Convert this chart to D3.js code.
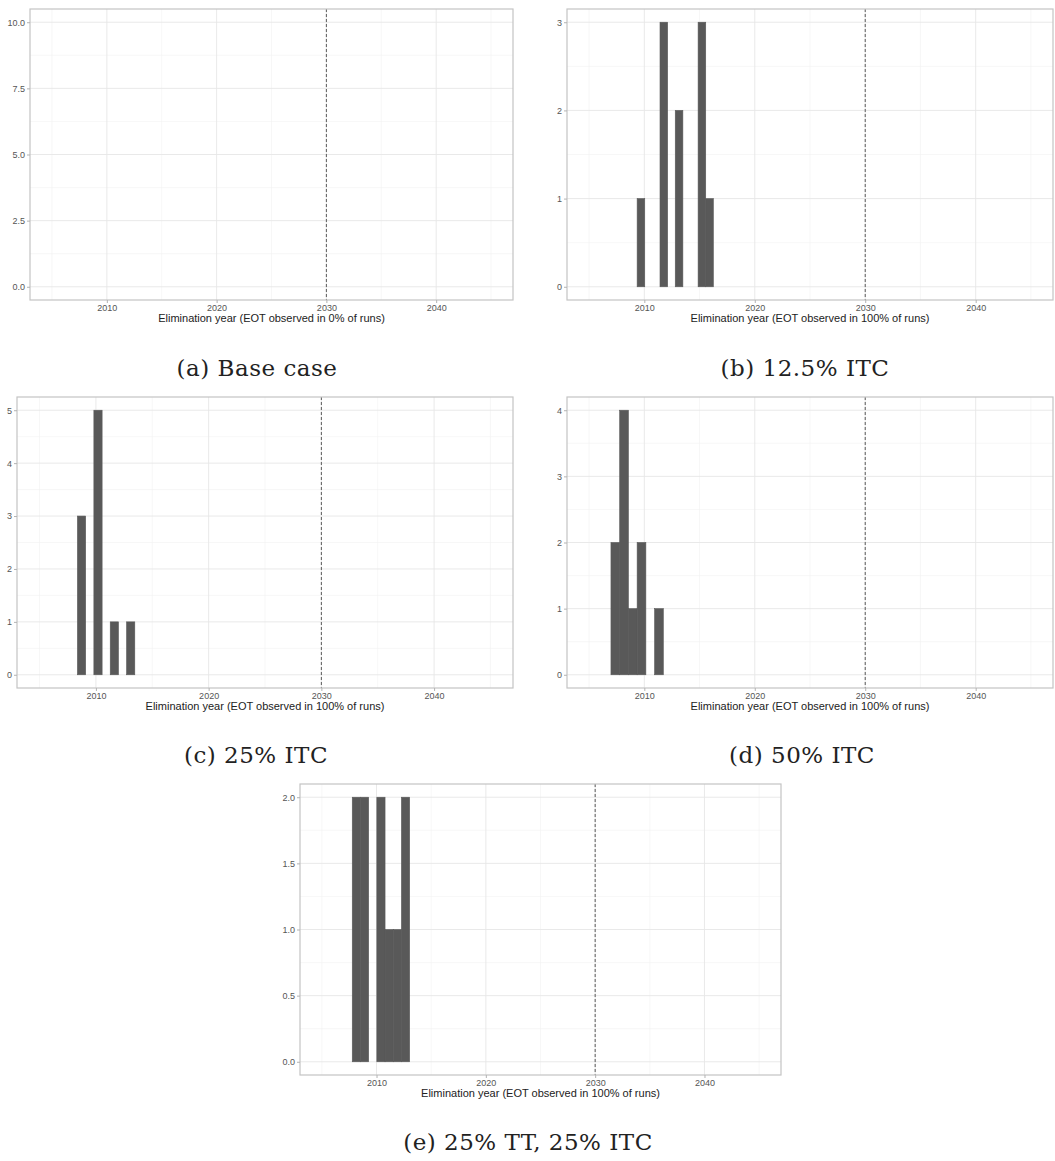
<!DOCTYPE html>
<html>
<head>
<meta charset="utf-8">
<script src="https://cdn.jsdelivr.net/npm/d3@7"></script>
<style>
  body { margin: 0; background: #fff; }
  svg { display: block; }
</style>
</head>
<body>
<div id="fig"></div>
<script>
// Histogramas do ano de eliminação, um painel por cenário
const captions = ['(a) Base case', '(b) 12.5% ITC', '(c) 25% ITC', '(d) 50% ITC', '(e) 25% TT, 25% ITC'];
const xTitles = [
  'Elimination year (EOT observed in 0% of runs)',
  'Elimination year (EOT observed in 100% of runs)',
  'Elimination year (EOT observed in 100% of runs)',
  'Elimination year (EOT observed in 100% of runs)',
  'Elimination year (EOT observed in 100% of runs)'
];
const xDomain = [2003, 2047];
const xTicks = [2010, 2020, 2030, 2040];
const xMinor = [2005, 2015, 2025, 2035, 2045];
const targetYear = 2030;

// limites do eixo y e marcas de cada painel
const yMax = [10, 3, 5, 4, 2];
const yTicks = [
  [0, 2.5, 5, 7.5, 10],
  [0, 1, 2, 3],
  [0, 1, 2, 3, 4, 5],
  [0, 1, 2, 3, 4],
  [0, 0.5, 1, 1.5, 2]
];
const yTickFormat = ['.1f', 'd', 'd', 'd', '.1f'];

// classes do histograma (início do bin) e contagens
const binWidths = [0.7, 0.69, 0.73, 0.79, 0.75];
const binsA = [];
const countsA = [];
const binsB = [2009.35, 2011.42, 2012.80, 2014.87, 2015.56];
const countsB = [1, 3, 2, 3, 1];
const binsC = [2008.36, 2009.82, 2011.27, 2012.72];
const countsC = [3, 5, 1, 1];
const binsD = [2006.98, 2007.77, 2008.56, 2009.35, 2010.93];
const countsD = [2, 4, 1, 2, 1];
const binsE = [2007.78, 2008.53, 2010.03, 2010.78, 2011.53, 2012.28];
const countsE = [2, 2, 2, 1, 1, 2];

const allBins = [binsA, binsB, binsC, binsD, binsE];
const allCounts = [countsA, countsB, countsC, countsD, countsE];

// posição de cada painel na figura (px)
const layout = [
  { left: 30, right: 513, top: 9, bottom: 300, capX: 257, capY: 376 },
  { left: 567, right: 1053, top: 9, bottom: 300, capX: 805, capY: 376 },
  { left: 17, right: 513, top: 397, bottom: 688, capX: 256, capY: 763 },
  { left: 567, right: 1053, top: 397, bottom: 688, capX: 802, capY: 763 },
  { left: 300, right: 781, top: 784, bottom: 1075, capX: 528, capY: 1150 }
];

const width = 1055;
const height = 1161;
const svg = d3.select('#fig')
  .append('svg')
  .attr('width', width)
  .attr('height', height);

layout.forEach((p, i) => {
  const g = svg.append('g');
  const x = d3.scaleLinear().domain(xDomain).range([p.left, p.right]);
  const pad = yMax[i] * 0.05;
  const y = d3.scaleLinear().domain([-pad, yMax[i] + pad]).range([p.bottom, p.top]);

  // grelha menor
  const yt = yTicks[i];
  const step = yt[1] - yt[0];
  const yMinor = yt.slice(0, -1).map(v => v + step / 2);
  g.selectAll('line.xminor').data(xMinor).enter().append('line')
    .attr('x1', d => x(d)).attr('x2', d => x(d))
    .attr('y1', p.top).attr('y2', p.bottom)
    .attr('stroke', '#f2f2f2').attr('stroke-width', 0.6);
  g.selectAll('line.yminor').data(yMinor).enter().append('line')
    .attr('x1', p.left).attr('x2', p.right)
    .attr('y1', d => y(d)).attr('y2', d => y(d))
    .attr('stroke', '#f2f2f2').attr('stroke-width', 0.6);

  // grelha principal
  g.selectAll('line.xmajor').data(xTicks).enter().append('line')
    .attr('x1', d => x(d)).attr('x2', d => x(d))
    .attr('y1', p.top).attr('y2', p.bottom)
    .attr('stroke', '#e6e6e6').attr('stroke-width', 0.9);
  g.selectAll('line.ymajor').data(yt).enter().append('line')
    .attr('x1', p.left).attr('x2', p.right)
    .attr('y1', d => y(d)).attr('y2', d => y(d))
    .attr('stroke', '#e6e6e6').attr('stroke-width', 0.9);

  // barras
  const bw = binWidths[i];
  g.selectAll('rect.bar')
    .data(allBins[i].map((b, k) => ({ start: b, count: allCounts[i][k] })))
    .enter().append('rect')
    .attr('x', d => x(d.start))
    .attr('width', d => x(d.start + bw) - x(d.start))
    .attr('y', d => y(d.count))
    .attr('height', d => y(0) - y(d.count))
    .attr('fill', '#595959')
    .attr('stroke', '#595959')
    .attr('stroke-width', 0.6);

  // linha de 2030
  g.append('line')
    .attr('x1', x(targetYear)).attr('x2', x(targetYear))
    .attr('y1', p.top).attr('y2', p.bottom)
    .attr('stroke', '#5a5a5a').attr('stroke-width', 1)
    .attr('stroke-dasharray', '3,2');

  // moldura
  g.append('rect')
    .attr('x', p.left).attr('y', p.top)
    .attr('width', p.right - p.left).attr('height', p.bottom - p.top)
    .attr('fill', 'none').attr('stroke', '#c4c4c4').attr('stroke-width', 1.2);

  // eixos
  const xAxis = d3.axisBottom(x).tickValues(xTicks).tickFormat(d3.format('d')).tickSize(3).tickPadding(2);
  const gx = g.append('g').attr('transform', `translate(0,${p.bottom})`).call(xAxis);
  const yAxis = d3.axisLeft(y).tickValues(yt).tickFormat(d3.format(yTickFormat[i])).tickSize(3).tickPadding(2);
  const gy = g.append('g').attr('transform', `translate(${p.left},0)`).call(yAxis);
  [gx, gy].forEach(a => {
    a.select('.domain').remove();
    a.selectAll('line').attr('stroke', '#b3b3b3');
    a.selectAll('text')
      .attr('fill', '#555')
      .style('font-family', 'Liberation Sans, Arial, sans-serif')
      .style('font-size', '9px');
  });

  g.append('text')
    .attr('x', (p.left + p.right) / 2)
    .attr('y', p.bottom + 22)
    .attr('text-anchor', 'middle')
    .style('font-family', 'Liberation Sans, Arial, sans-serif')
    .style('font-size', '11px')
    .attr('fill', '#222')
    .text(xTitles[i]);

  svg.append('text')
    .attr('x', p.capX)
    .attr('y', p.capY)
    .attr('text-anchor', 'middle')
    .style('font-family', 'DejaVu Serif, serif')
    .style('font-size', '23px')
    .style('letter-spacing', '0.5px')
    .attr('fill', '#222')
    .text(captions[i]);
});
</script>
</body>
</html>
